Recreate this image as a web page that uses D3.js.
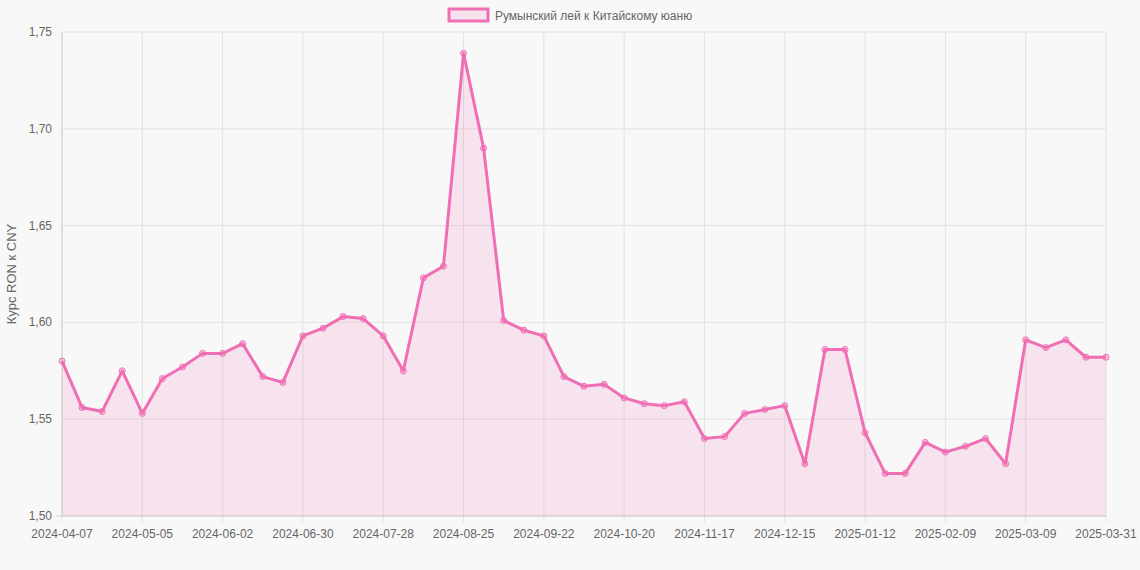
<!DOCTYPE html>
<html><head><meta charset="utf-8">
<script src="https://cdn.jsdelivr.net/npm/d3@7"></script>
<style>body{margin:0;background:#f8f8f8;}svg{display:block;font-family:"Liberation Sans",Arial,sans-serif;}</style>
</head><body><svg id="c" width="1140" height="570"></svg>
<script>
const labels=["2024-04-07","2024-04-14","2024-04-21","2024-04-28","2024-05-05","2024-05-12","2024-05-19","2024-05-26","2024-06-02","2024-06-09","2024-06-16","2024-06-23","2024-06-30","2024-07-07","2024-07-14","2024-07-21","2024-07-28","2024-08-04","2024-08-11","2024-08-18","2024-08-25","2024-09-01","2024-09-08","2024-09-15","2024-09-22","2024-09-29","2024-10-06","2024-10-13","2024-10-20","2024-10-27","2024-11-03","2024-11-10","2024-11-17","2024-11-24","2024-12-01","2024-12-08","2024-12-15","2024-12-22","2024-12-29","2025-01-05","2025-01-12","2025-01-19","2025-01-26","2025-02-02","2025-02-09","2025-02-16","2025-02-23","2025-03-02","2025-03-09","2025-03-16","2025-03-23","2025-03-30","2025-03-31"];
const values=[1.580,1.556,1.554,1.575,1.553,1.571,1.577,1.584,1.584,1.589,1.572,1.569,1.593,1.597,1.603,1.602,1.593,1.575,1.623,1.629,1.739,1.690,1.601,1.596,1.593,1.572,1.567,1.568,1.561,1.558,1.557,1.559,1.540,1.541,1.553,1.555,1.557,1.527,1.586,1.586,1.543,1.522,1.522,1.538,1.533,1.536,1.540,1.527,1.591,1.587,1.591,1.582,1.582];
const yTicks=[1.50,1.55,1.60,1.65,1.70,1.75];
const seriesName="Румынский лей к Китайскому юаню";
const yTitle="Курс RON к CNY";

const svg=d3.select("#c");
const L=62,R=1106,T=32,B=516;
const x=d3.scalePoint().domain(labels).range([L,R]);
const y=d3.scaleLinear().domain([1.5,1.75]).range([B,T]);
const col="#f06eb4";
// grid
svg.append("g").selectAll("line").data(yTicks).join("line")
 .attr("x1",L).attr("x2",R).attr("y1",d=>y(d)).attr("y2",d=>y(d)).attr("stroke","#e2e2e2");
const shown=labels.filter((d,i)=>i%4===0);
svg.append("g").selectAll("line").data(shown).join("line")
 .attr("x1",d=>x(d)).attr("x2",d=>x(d)).attr("y1",T).attr("y2",B+6).attr("stroke","#e2e2e2");
svg.append("line").attr("x1",L).attr("x2",L).attr("y1",T).attr("y2",B).attr("stroke","#cfcfcf");
svg.append("line").attr("x1",L-6).attr("x2",R).attr("y1",B).attr("y2",B).attr("stroke","#cfcfcf");
// y labels
svg.append("g").selectAll("text").data(yTicks).join("text")
 .attr("x",L-10).attr("y",d=>y(d)+4).attr("text-anchor","end").attr("font-size",12).attr("fill","#666")
 .text(d=>d.toFixed(2).replace(".",","));
svg.append("g").selectAll("text").data(shown).join("text")
 .attr("x",d=>x(d)).attr("y",B+22).attr("text-anchor","middle").attr("font-size",12).attr("fill","#666").text(d=>d);
svg.append("text").attr("transform",`translate(16,${(T+B)/2}) rotate(-90)`).attr("text-anchor","middle")
 .attr("font-size",13).attr("fill","#666").text(yTitle);
// area + line
const pts=labels.map((l,i)=>[x(l),y(values[i])]);
svg.append("path").attr("d",d3.area().x(d=>d[0]).y0(B).y1(d=>d[1])(pts)).attr("fill","rgba(240,110,180,0.15)");
svg.append("path").attr("d",d3.line()(pts)).attr("fill","none").attr("stroke",col).attr("stroke-width",3).attr("stroke-linejoin","round");
svg.append("g").selectAll("circle").data(pts).join("circle").attr("cx",d=>d[0]).attr("cy",d=>d[1]).attr("r",3)
 .attr("fill","rgba(240,110,180,0.3)").attr("stroke",col).attr("stroke-width",1);
// legend
svg.append("rect").attr("x",449).attr("y",9).attr("width",39).attr("height",12).attr("fill","rgba(240,110,180,0.15)").attr("stroke",col).attr("stroke-width",3);
svg.append("text").attr("x",495).attr("y",19.5).attr("font-size",12).attr("fill","#666").text(seriesName);
</script></body></html>
